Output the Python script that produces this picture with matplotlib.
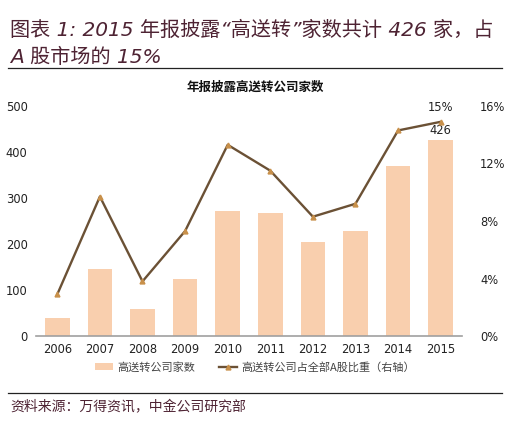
import matplotlib
matplotlib.use("Agg")
import matplotlib.pyplot as plt
from matplotlib.lines import Line2D
from matplotlib.patches import Patch
from matplotlib.ticker import FuncFormatter

plt.rcParams["font.family"] = ["DejaVu Sans", "Noto Sans CJK SC"]
CJK = ["Noto Sans CJK SC", "DejaVu Sans"]

years = ["2006", "2007", "2008", "2009", "2010", "2011", "2012", "2013", "2014", "2015"]
counts = [40, 146, 59, 123, 272, 267, 204, 228, 370, 426]
share = [2.9, 9.7, 3.8, 7.3, 13.3, 11.5, 8.3, 9.2, 14.3, 14.9]  # % of all A-shares

BAR = "#F9CFAE"; LINE = "#6B5135"; MARK = "#C8904A"; MAROON = "#4E2333"; TXT = "#222222"

W, H = 508, 421
fig = plt.figure(figsize=(W/100, H/100), dpi=100)
ax = fig.add_axes([36/W, 85/H, 426/W, 230/H])
ax2 = ax.twinx()

x = range(len(years))
ax.bar(x, counts, width=0.58, color=BAR, zorder=2)
ax2.plot(x, share, color=LINE, lw=1.7, marker="^", ms=3.5, mfc=MARK, mec=MARK, zorder=3)

ax.set_xlim(-0.5, len(years)-0.5)
ax.set_ylim(0, 500)
ax.set_yticks(range(0, 501, 100))
ax2.set_ylim(0, 16)
ax2.set_yticks([0, 4, 8, 12, 16])
ax2.yaxis.set_major_formatter(FuncFormatter(lambda v, p: f"{v:.0f}%"))
ax.set_xticks(list(x))
ax.set_xticklabels(years)

for a in (ax, ax2):
    for s in a.spines.values():
        s.set_visible(False)
    a.tick_params(length=0, labelsize=8.3, colors=TXT)
ax.spines["bottom"].set_visible(True)
ax.spines["bottom"].set_color("#A0A0A0")
ax.spines["bottom"].set_linewidth(1.2)
ax.tick_params(axis="y", pad=6)
ax2.tick_params(axis="y", pad=13)
ax.tick_params(axis="x", pad=5)

ax.text(9, counts[-1] + 6, f"{counts[-1]}", ha="center", va="bottom", fontsize=8.3, color=TXT, zorder=4)
ax2.text(9, share[-1] + 0.55, f"{share[-1]:.0f}%", ha="center", va="bottom", fontsize=8.3, color=TXT)

# legend
handles = [Patch(fc=BAR, ec="none"),
           Line2D([], [], color=LINE, lw=1.7, marker="^", ms=3.5, mfc=MARK, mec=MARK)]
fig.legend(handles, ["高送转公司家数", "高送转公司占全部A股比重（右轴）"],
           loc="center", bbox_to_anchor=(255/W, 1-367/H), ncol=2, frameon=False,
           prop={"family": CJK, "size": 8}, handlelength=1.6, columnspacing=2.2,
           handletextpad=0.4, labelcolor="#444444")

# titles and frame lines
fig.text(10/W, 1-30/H, "图表 1: 2015 年报披露“高送转”家数共计 426 家，占",
         fontsize=14.5, style="italic", color=MAROON, va="center", family=["DejaVu Sans", "Noto Sans CJK SC"])
fig.text(10/W, 1-57/H, "A 股市场的 15%",
         fontsize=14.5, style="italic", color=MAROON, va="center", family=["DejaVu Sans", "Noto Sans CJK SC"])
fig.add_artist(Line2D([8/W, 502/W], [1-68/H, 1-68/H], color="#222222", lw=0.9))
fig.text(255/W, 1-87/H, "年报披露高送转公司家数", ha="center", va="center",
         fontsize=9, fontweight="bold", family=CJK, color="#111111")
fig.add_artist(Line2D([8/W, 502/W], [1-393/H, 1-393/H], color="#222222", lw=0.9))
fig.text(10/W, 1-407/H, "资料来源：万得资讯，中金公司研究部", va="center",
         fontsize=10, style="italic", color=MAROON, family=CJK)

fig.savefig("out.png", dpi=100, facecolor="white")
